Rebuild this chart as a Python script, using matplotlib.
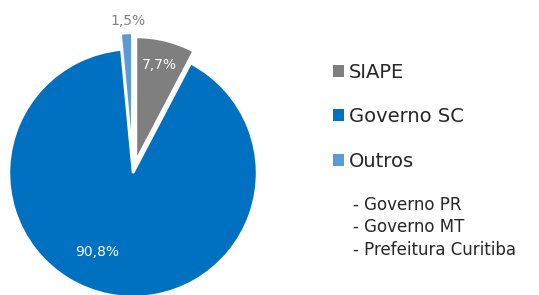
import matplotlib
matplotlib.use("Agg")
import matplotlib.pyplot as plt
import numpy as np

# dados do gráfico
categorias = ["SIAPE", "Governo SC", "Outros"]
valores = [7.7, 90.8, 1.5]
rotulos = ["7,7%", "90,8%", "1,5%"]
cores = ["#7f7f7f", "#0070c0", "#5b9bd5"]
outros_itens = ["- Governo PR", "- Governo MT", "- Prefeitura Curitiba"]

plt.rcParams['font.family'] = ['DejaVu Sans']

fig = plt.figure(figsize=(5.39, 2.95), dpi=100)
ax = fig.add_axes([0, 0, 266 / 539, 1])

wedges, _ = ax.pie(valores, colors=cores, startangle=90, counterclock=False,
                   explode=[0.1, 0, 0.13],
                   wedgeprops=dict(edgecolor="white", linewidth=1.8))

ax.set_aspect("auto")
ax.set_xlim(-133 / 124, 133 / 124)
ax.set_ylim(-122 / 124, 173 / 124)
ax.axis("off")

# rótulos de porcentagem (distância do centro, deslocamento angular, cor)
ajustes = [(0.8, 0, "white"), (0.7, -13, "white"), (1.1, -1, "#808080")]
for w, txt, (dist, dang, cor) in zip(wedges, rotulos, ajustes):
    ang = np.deg2rad((w.theta1 + w.theta2) / 2 + dang)
    cx, cy = w.center
    ax.text(cx + dist * np.cos(ang), cy + dist * np.sin(ang), txt,
            ha="center", va="center", color=cor, fontsize=10)

leg = fig.legend(wedges, categorias, loc="upper left",
                 bbox_to_anchor=(333 / 539, 1 - 63 / 295),
                 frameon=False, fontsize=14, labelspacing=1.3,
                 handlelength=0.57, handleheight=0.57, handletextpad=0.26,
                 borderpad=0, borderaxespad=0)
for t in leg.get_texts():
    t.set_color("#262626")
for p in leg.get_patches():
    p.set_edgecolor("none")

for i, item in enumerate(outros_itens):
    fig.text(353 / 539, 1 - (205 + 22.5 * i) / 295, item, fontsize=12,
             color="#262626", va="center", ha="left")

fig.savefig("out.png", dpi=100)
